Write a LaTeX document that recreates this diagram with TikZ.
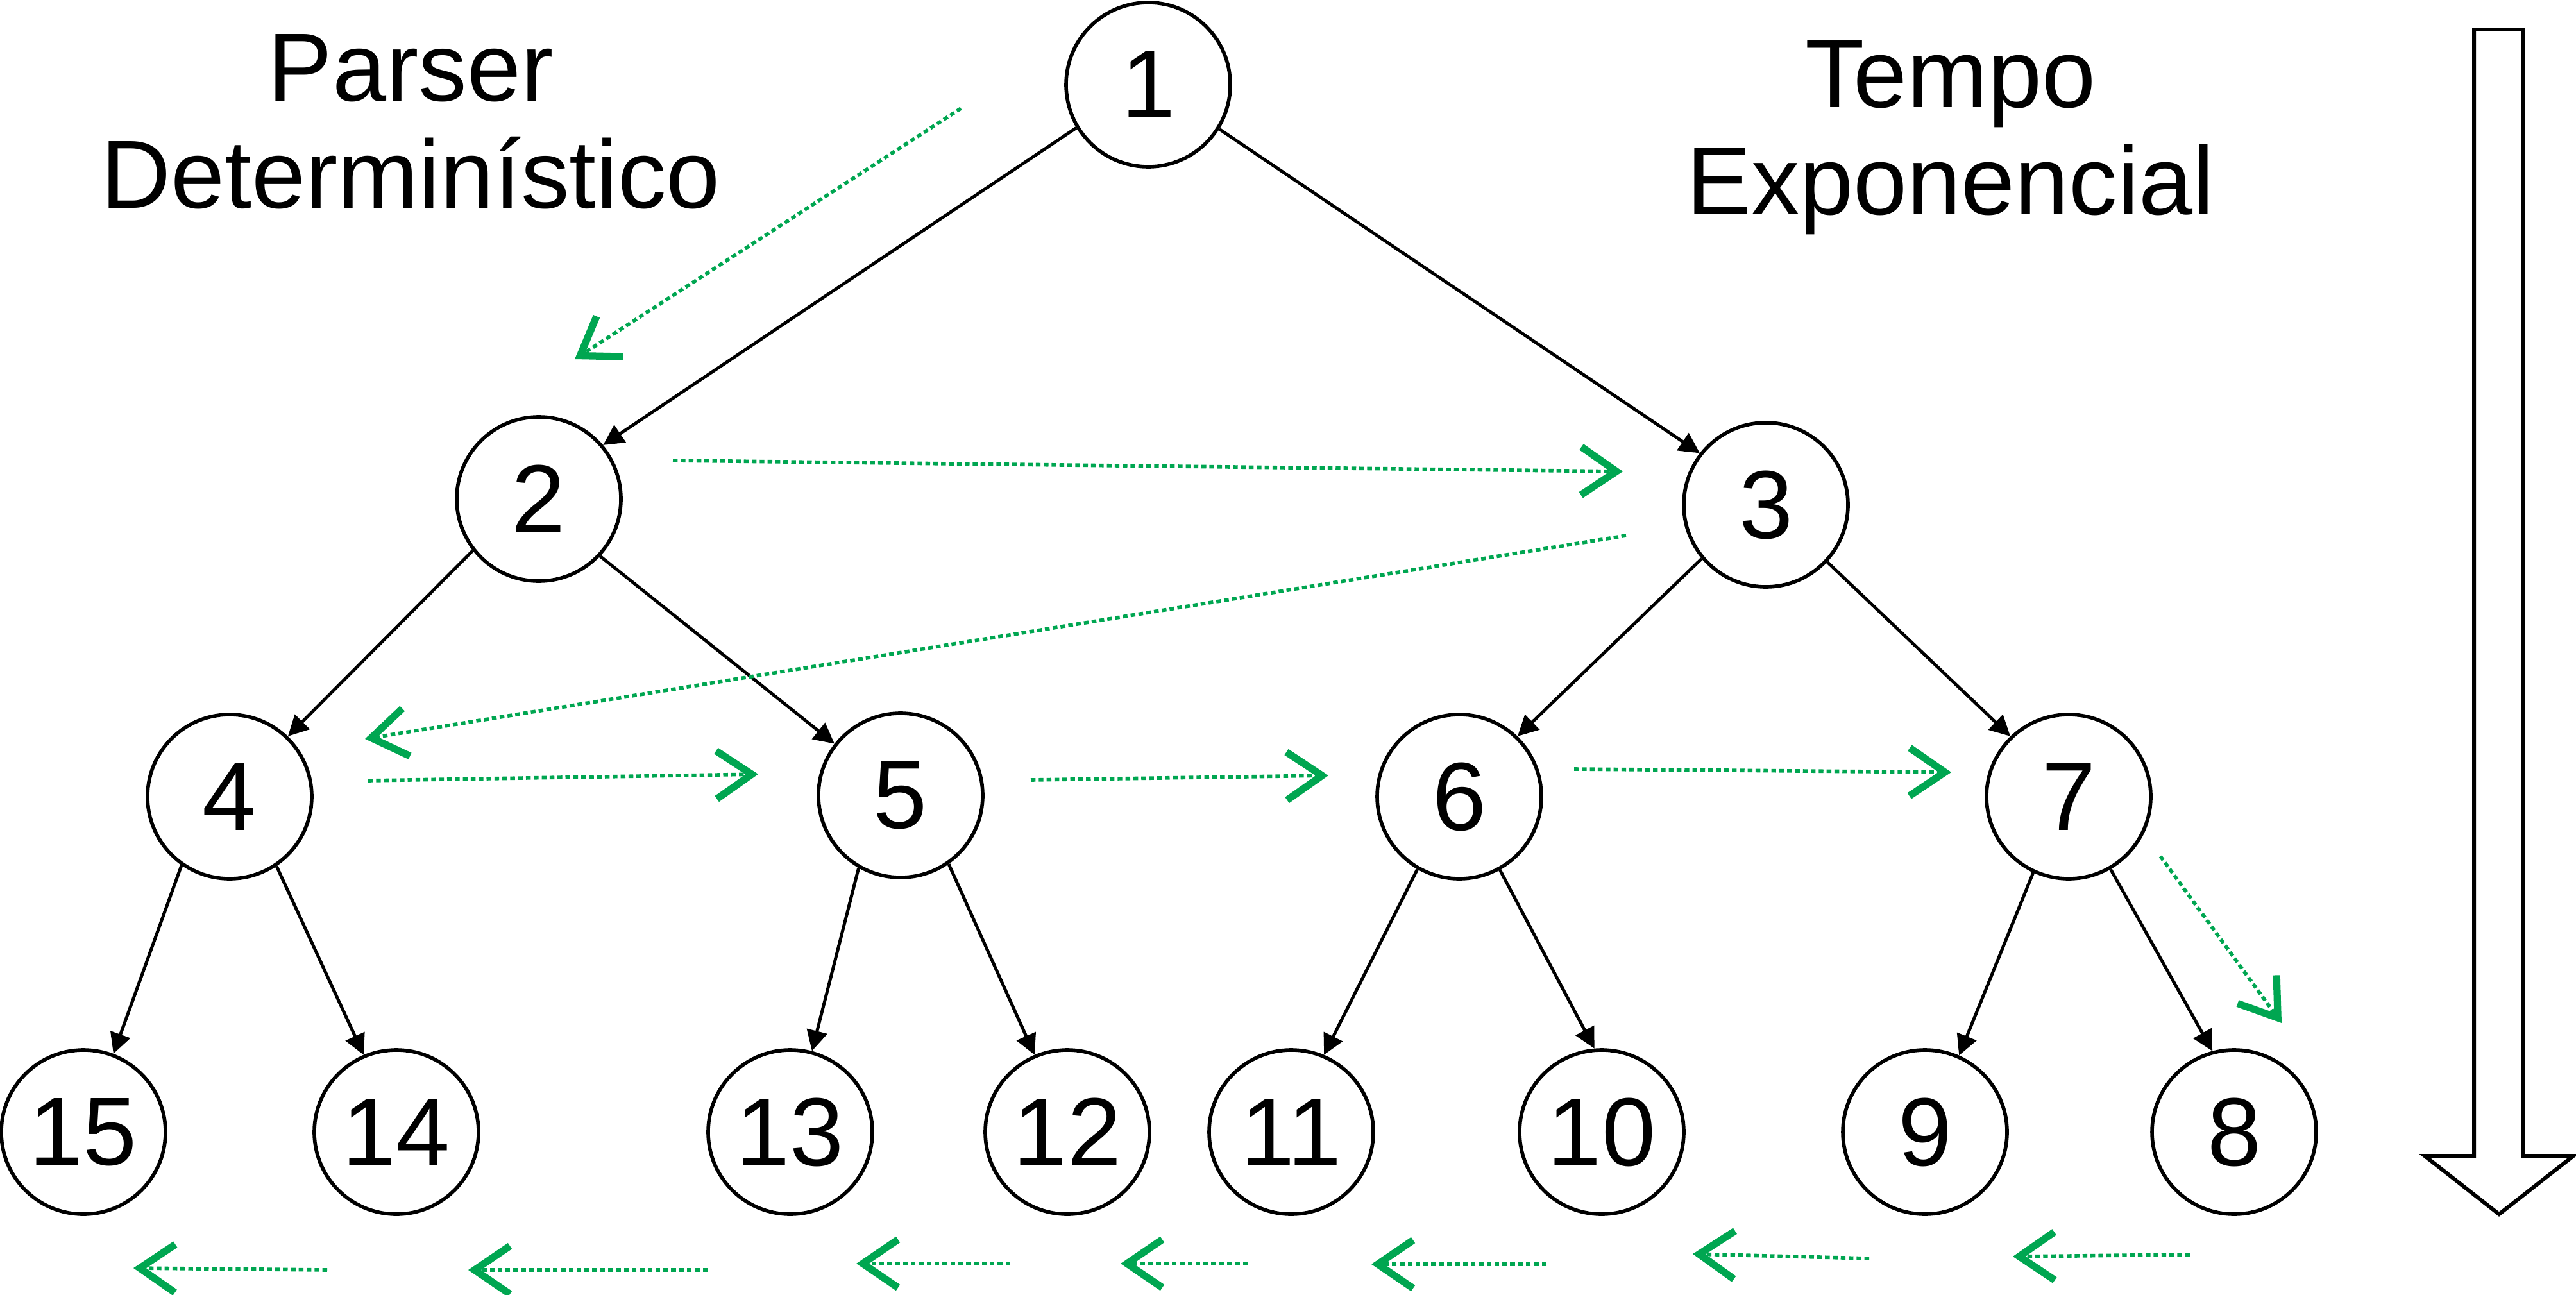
\documentclass[tikz,border=0pt]{standalone}
\usepackage{fontspec}
\setmainfont{Liberation Sans}
\usetikzlibrary{arrows.meta}

\definecolor{trailgreen}{HTML}{00A651}

\begin{document}
\begin{tikzpicture}[
vertex/.style={circle, draw=black, line width=1.6pt, minimum size=2.56cm, inner sep=0pt, font=\fontsize{43}{47.5}\selectfont},
branch/.style={line width=1.4pt, -{Triangle[length=0.32cm, width=0.32cm]}},
trail/.style={draw=trailgreen, line width=1.6pt, dash pattern=on 2.1pt off 1.4pt, -{Straight Barb[length=0.55cm, width=0.75cm, line width=3.2pt]}},
caption/.style={align=center, inner sep=0pt, font=\fontsize{43}{47.5}\selectfont},
]
\useasboundingbox (0,0) rectangle (40.16,-20.18);

\node at (6.40,-3.24) [caption, anchor=base](parser_label){Parser\\Determinístico};
\node at (30.41,-3.34) [caption, anchor=base](time_label){Tempo\\Exponencial};

\node at (17.90,-1.32) [vertex](visit_1){1};
\node at (8.40,-7.78) [vertex](visit_2){2};
\node at (27.53,-7.87) [vertex](visit_3){3};
\draw[branch] (visit_1.211) -- (visit_2.40);
\draw[branch] (visit_1.-32) -- (visit_3.142);

\node at (3.58,-12.42) [vertex](visit_4){4};
\node at (14.04,-12.40) [vertex](visit_5){5};
\node at (22.75,-12.42) [vertex](visit_6){6};
\node at (32.25,-12.42) [vertex](visit_7){7};
\draw[branch] (visit_2.218) -- (visit_4.46);
\draw[branch] (visit_2.-43) -- (visit_5.142);
\draw[branch] (visit_3.220) -- (visit_6.46);
\draw[branch] (visit_3.-43) -- (visit_7.134);

\node at (1.30,-17.65) [vertex](visit_15){15};
\node at (6.18,-17.65) [vertex](visit_14){14};
\node at (12.32,-17.65) [vertex](visit_13){13};
\node at (16.64,-17.65) [vertex](visit_12){12};
\node at (20.13,-17.65) [vertex](visit_11){11};
\node at (24.97,-17.65) [vertex](visit_10){10};
\node at (30.01,-17.65) [vertex](visit_9){9};
\node at (34.83,-17.65) [vertex](visit_8){8};
\draw[branch] (visit_4.235) -- (visit_15.69);
\draw[branch] (visit_4.-56) -- (visit_14.113);
\draw[branch] (visit_5.240) -- (visit_13.75);
\draw[branch] (visit_5.-55) -- (visit_12.113);
\draw[branch] (visit_6.240) -- (visit_11.67);
\draw[branch] (visit_6.-61) -- (visit_10.95);
\draw[branch] (visit_7.245) -- (visit_9.66);
\draw[branch] (visit_7.-60) -- (visit_8.105);

% visiting order
\coordinate (trail_a_start) at (14.98,-1.69);
\coordinate (trail_a_end) at (8.96,-5.60);
\draw[trail] (trail_a_start) -- (trail_a_end);
\coordinate (trail_b_start) at (10.49,-7.18);
\coordinate (trail_b_end) at (25.30,-7.35);
\draw[trail] (trail_b_start) -- (trail_b_end);
\coordinate (trail_c_start) at (25.35,-8.35);
\coordinate (trail_c_end) at (5.69,-11.52);
\draw[trail] (trail_c_start) -- (trail_c_end);
\coordinate (trail_d_start) at (5.74,-12.17);
\coordinate (trail_d_end) at (11.82,-12.07);
\draw[trail] (trail_d_start) -- (trail_d_end);
\coordinate (trail_e_start) at (16.07,-12.16);
\coordinate (trail_e_end) at (20.71,-12.09);
\draw[trail] (trail_e_start) -- (trail_e_end);
\coordinate (trail_f_start) at (24.54,-11.99);
\coordinate (trail_f_end) at (30.42,-12.04);
\draw[trail] (trail_f_start) -- (trail_f_end);
\coordinate (trail_g_start) at (33.68,-13.35);
\coordinate (trail_g_end) at (35.57,-15.95);
\draw[trail] (trail_g_start) -- (trail_g_end);

\coordinate (trail_h_start) at (34.14,-19.56);
\coordinate (trail_h_end) at (31.38,-19.59);
\draw[trail] (trail_h_start) -- (trail_h_end);
\coordinate (trail_i_start) at (29.14,-19.62);
\coordinate (trail_i_end) at (26.39,-19.55);
\draw[trail] (trail_i_start) -- (trail_i_end);
\coordinate (trail_j_start) at (24.11,-19.71);
\coordinate (trail_j_end) at (21.38,-19.71);
\draw[trail] (trail_j_start) -- (trail_j_end);
\coordinate (trail_k_start) at (19.45,-19.70);
\coordinate (trail_k_end) at (17.47,-19.70);
\draw[trail] (trail_k_start) -- (trail_k_end);
\coordinate (trail_l_start) at (15.75,-19.70);
\coordinate (trail_l_end) at (13.35,-19.70);
\draw[trail] (trail_l_start) -- (trail_l_end);
\coordinate (trail_m_start) at (11.03,-19.80);
\coordinate (trail_m_end) at (7.30,-19.80);
\draw[trail] (trail_m_start) -- (trail_m_end);
\coordinate (trail_n_start) at (5.10,-19.80);
\coordinate (trail_n_end) at (2.08,-19.77);
\draw[trail] (trail_n_start) -- (trail_n_end);

% time arrow
\draw[line width=1.7pt] (38.57,-0.46) -- (38.57,-18.02) -- (37.80,-18.02) -- (38.96,-18.93) -- (40.12,-18.02) -- (39.33,-18.02) -- (39.33,-0.46) -- cycle;

\end{tikzpicture}
\end{document}
